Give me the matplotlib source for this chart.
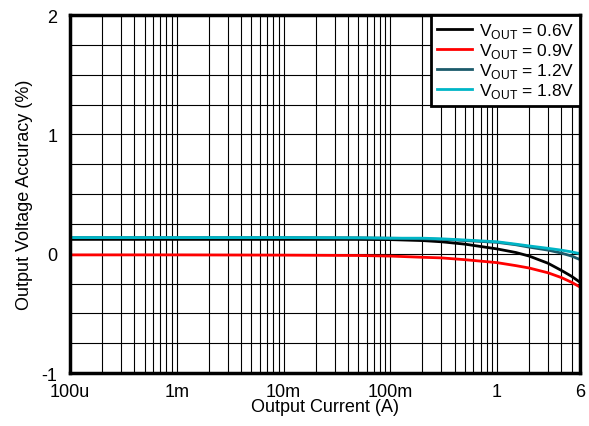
import matplotlib
matplotlib.use("Agg")
import matplotlib.pyplot as plt
import numpy as np
from matplotlib.ticker import FixedLocator, LogLocator, NullFormatter, MultipleLocator

plt.rcParams['font.family'] = ['Liberation Sans', 'DejaVu Sans']
plt.rcParams['mathtext.fontset'] = 'custom'
plt.rcParams['mathtext.rm'] = 'Liberation Sans'

# output current (A)
current = [1e-4, 1e-3, 1e-2, 0.05, 0.1, 0.2, 0.3, 0.5, 1, 1.5, 2, 3, 4, 5, 6]
# output voltage accuracy (%)
acc_06 = [0.12, 0.12, 0.12, 0.12, 0.118, 0.11, 0.10, 0.08, 0.04, 0.01, -0.02, -0.08, -0.14, -0.19, -0.24]
acc_09 = [-0.01, -0.01, -0.012, -0.015, -0.02, -0.03, -0.035, -0.05, -0.075, -0.10, -0.12, -0.16, -0.20, -0.24, -0.28]
acc_12 = [0.135, 0.135, 0.135, 0.133, 0.13, 0.125, 0.12, 0.11, 0.095, 0.075, 0.055, 0.03, 0.005, -0.02, -0.05]
acc_18 = [0.135, 0.135, 0.135, 0.133, 0.13, 0.13, 0.125, 0.115, 0.10, 0.08, 0.065, 0.045, 0.03, 0.015, 0.0]

labels = ['0.6V', '0.9V', '1.2V', '1.8V']
colors = ['#000000', '#ff0000', '#1c5b6b', '#00b5c6']

xticks = [1e-4, 1e-3, 1e-2, 1e-1, 1, 6]
xticklabels = ['100u', '1m', '10m', '100m', '1', '6']

fig = plt.figure(figsize=(5.89, 4.27), dpi=100)
ax = fig.add_axes([0.119, 0.124, 0.866, 0.8385])

for y, lab, c in zip([acc_06, acc_09, acc_12, acc_18], labels, colors):
    ax.plot(current, y, color=c, lw=2, label=r'V$_\mathregular{OUT}$ = ' + lab)

ax.set_xscale('log')
ax.set_xlim(1e-4, 6)
ax.set_ylim(-1, 2)
ax.xaxis.set_major_locator(FixedLocator(xticks))
ax.set_xticklabels(xticklabels)
ax.xaxis.set_minor_locator(LogLocator(base=10, subs=np.arange(2, 10)))
ax.xaxis.set_minor_formatter(NullFormatter())
ax.yaxis.set_major_locator(FixedLocator([-1, 0, 1, 2]))
ax.set_yticklabels(['-1', '0', '1', '2'])
ax.yaxis.set_minor_locator(MultipleLocator(0.25))

ax.grid(True, which='both', color='black', lw=0.8)
ax.tick_params(which='both', length=0, labelsize=13)
ax.tick_params(axis='x', pad=7)
ax.tick_params(axis='y', pad=9)
for s in ax.spines.values():
    s.set_linewidth(2.5)

ax.set_xlabel('Output Current (A)', fontsize=13, labelpad=-1)
ax.set_ylabel('Output Voltage Accuracy (%)', fontsize=13, labelpad=6)

leg = ax.legend(loc='upper right', fontsize=12.5, frameon=True, fancybox=False,
                borderaxespad=0, handlelength=2.0, handletextpad=0.4,
                labelspacing=0.05, borderpad=0.35)
leg.get_frame().set_edgecolor('black')
leg.get_frame().set_linewidth(2)
leg.get_frame().set_alpha(1)

fig.savefig('out.png', dpi=100)
